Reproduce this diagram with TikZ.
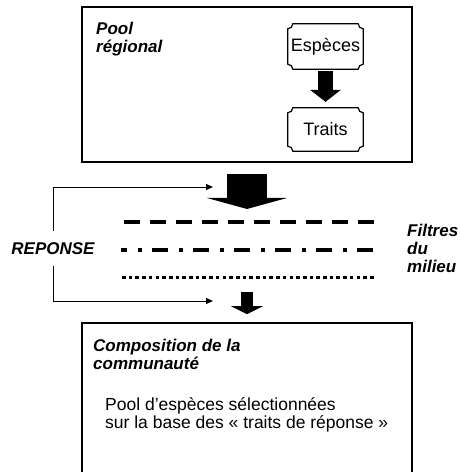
\documentclass[tikz,border=0pt]{standalone}
\usepackage{fontspec}
\setmainfont{Liberation Sans}
\usetikzlibrary{arrows.meta}
\tikzset{
  frame/.style={draw, line width=1.8pt, minimum width=330pt, inner sep=0pt},
  head/.style={font=\fontsize{17}{18}\selectfont\bfseries\itshape, align=left, inner sep=0pt, anchor=base west},
  body/.style={font=\fontsize{17.5}{18.5}\selectfont, align=left, inner sep=0pt, anchor=base west},
  plaque/.style={font=\fontsize{18}{20}\selectfont, minimum width=75pt, inner sep=0pt},
  link/.style={line width=0.9pt, -{Triangle[length=7pt,width=6pt]}},
  filt/.style={line width=3.5pt},
}
\newcommand\plaqueborder[2]{%
  \draw[line width=1.2pt] ([xshift=#2]#1.north west) -- ([xshift=-#2]#1.north east)
    arc[start angle=180, end angle=270, radius=#2] -- ([yshift=#2]#1.south east)
    arc[start angle=90, end angle=180, radius=#2] -- ([xshift=#2]#1.south west)
    arc[start angle=0, end angle=90, radius=#2] -- ([yshift=-#2]#1.north west)
    arc[start angle=270, end angle=360, radius=#2] -- cycle;}
\begin{document}
\begin{tikzpicture}[x=1pt,y=1pt]
\useasboundingbox (0,0) rectangle (459,472);
\fill[white] (0,0) rectangle (459,472);
% top box
\node[frame, minimum height=155pt] (top) at (247,387.5) {};
\node[head] (pool) at (96,419) {Pool\\régional};
\node[plaque, minimum height=45pt] (esp) at (325.5,425.5) {Espèces};
\node[plaque, minimum height=43pt] (traits) at (325.5,342.5) {Traits};
\plaqueborder{esp}{5pt}
\plaqueborder{traits}{5pt}
\draw[line width=15pt, -{Triangle[length=12pt,width=31pt,line width=0pt]}, shorten <=2pt, shorten >=6pt] (esp) -- (traits);
% big arrow
\coordinate (bigtip) at (247,263);
\draw[line width=40pt, -{Triangle[length=11pt,width=80pt,line width=0pt]}, shorten <=11pt] (top.south) -- (bigtip);
% filters
\draw[filt, dash pattern=on 16pt off 10pt] (124,250) -- (374,250);
\draw[filt, dash pattern=on 16pt off 11pt on 4pt off 10pt, dash phase=10pt] (121,222) -- (374,222);
\draw[line width=3pt, dash pattern=on 3.6pt off 3.1pt] (122,194) -- (374,194);
\node[head] (filtres) at (407,199) {Filtres\\du\\milieu};
% response
\node[font=\fontsize{17}{18}\selectfont\bfseries\itshape, inner sep=0pt, minimum height=35pt] (rep) at (53,223.5) {REPONSE};
\coordinate (t1) at (213,285);
\coordinate (t2) at (213,171);
\draw[link] (rep.north) |- (t1);
\draw[link] (rep.south) |- (t2);
% bottom box
\node[frame, line width=1.6pt, minimum height=160pt] (bot) at (247,69) {};
\coordinate (lowstart) at (247,180);
\draw[line width=12pt, -{Triangle[length=8pt,width=32pt,line width=0pt]}, shorten >=8pt] (lowstart) -- (bot.north);
\node[head] (comp) at (93,102) {Composition de la\\communauté};
\node[body] (txt) at (105,43) {Pool d’espèces sélectionnées\\sur la base des « traits de réponse »};
\end{tikzpicture}
\end{document}
